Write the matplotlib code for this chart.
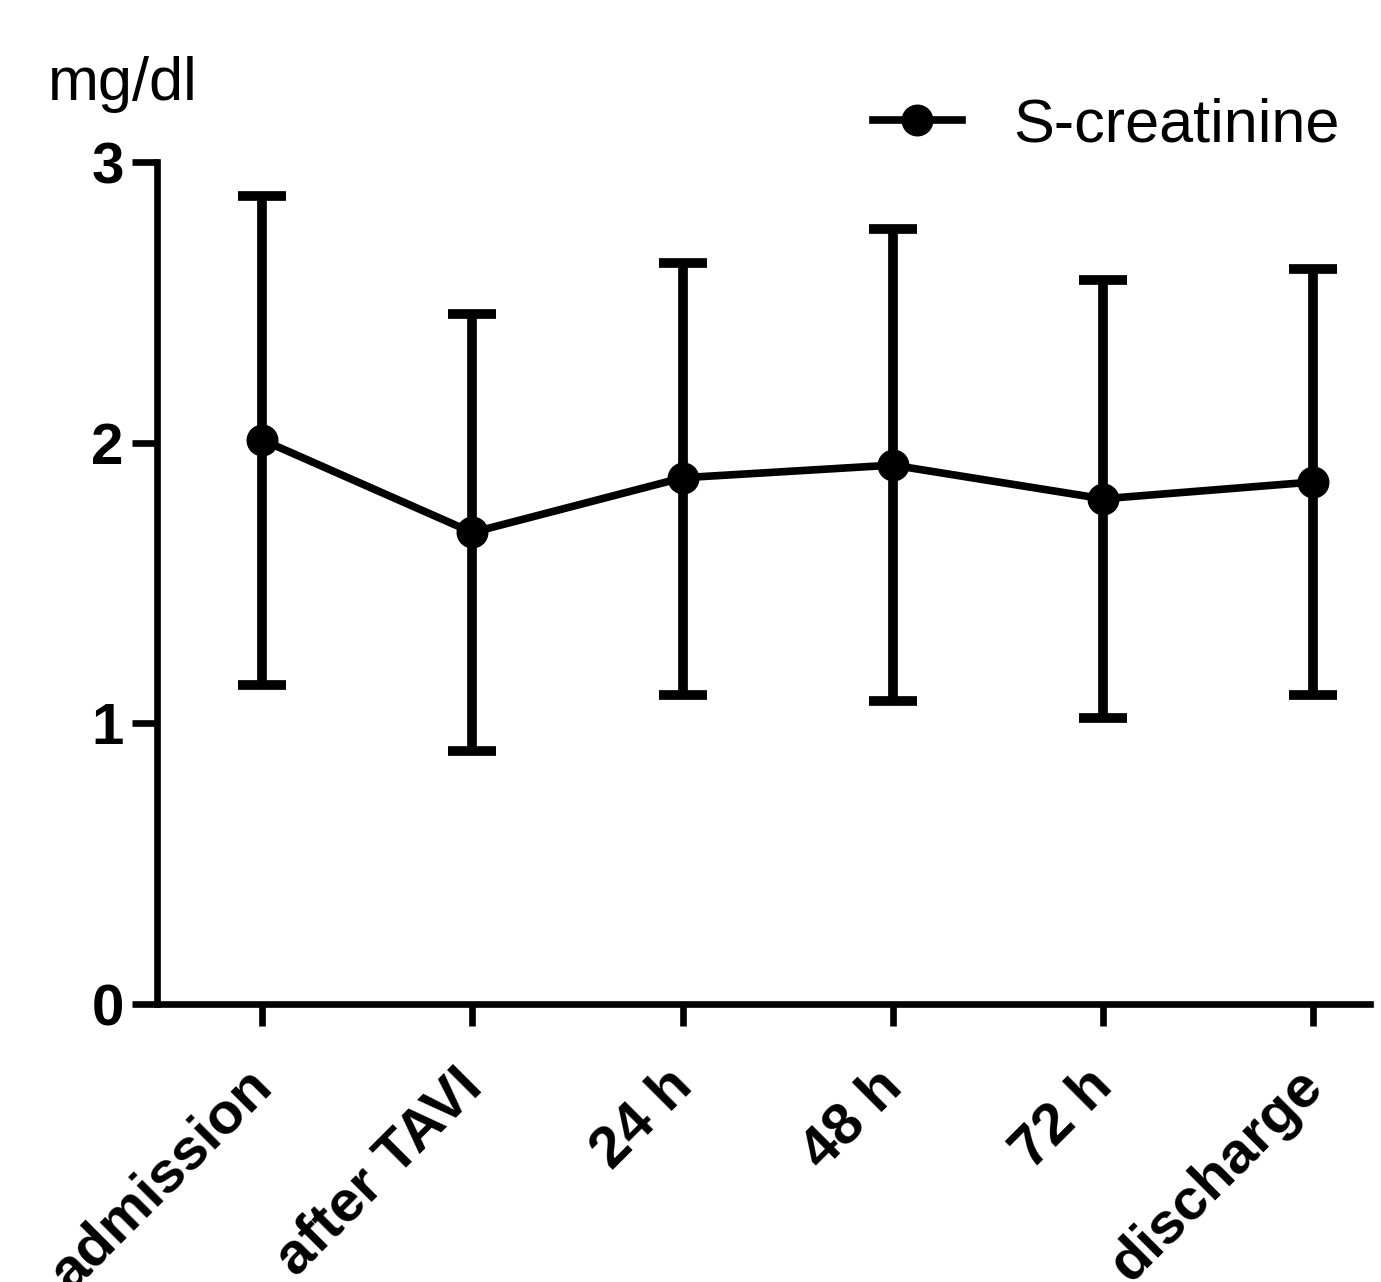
import matplotlib
matplotlib.use("Agg")
import matplotlib.pyplot as plt
import matplotlib.transforms as mtransforms
from matplotlib.lines import Line2D

categories = ["admission", "after TAVI", "24 h", "48 h", "72 h", "discharge"]
mean_vals = [2.01, 1.68, 1.875, 1.92, 1.80, 1.86]
upper_vals = [2.88, 2.46, 2.64, 2.76, 2.58, 2.62]
lower_vals = [1.135, 0.90, 1.10, 1.08, 1.02, 1.10]
yticks = [0, 1, 2, 3]
series_name = "S-creatinine"
unit_label = "mg/dl"

plt.rcParams['font.family'] = ['Liberation Sans', 'DejaVu Sans']

W, H = 1381, 1282
fig = plt.figure(figsize=(W / 100, H / 100), dpi=100)
ax = fig.add_axes([157 / W, 1 - 1004 / H, (1370 - 157) / W, (1004 - 162) / H])

x = list(range(len(categories)))
yerr = [[m - l for m, l in zip(mean_vals, lower_vals)],
        [u - m for m, u in zip(mean_vals, upper_vals)]]

ax.errorbar(x, mean_vals, yerr=yerr, color='black', lw=5.5, marker='o', ms=22,
            elinewidth=7, capsize=17, capthick=7, zorder=3, clip_on=False)

ax.set_xlim(-0.5, 5.27)
ax.set_ylim(0, 3)
ax.set_yticks(yticks)
ax.set_yticklabels([str(t) for t in yticks], fontsize=42, fontweight='bold')
ax.set_xticks(x)
ax.tick_params(axis='x', labelbottom=False)

label_tr = ax.get_xaxis_transform() + mtransforms.ScaledTranslation(
    -18 / 100, -55 / 100, fig.dpi_scale_trans)
for xi, cat in zip(x, categories):
    ax.text(xi, 0, cat, transform=label_tr, rotation=45, rotation_mode='anchor',
            ha='right', va='top', fontsize=42, fontweight='bold', clip_on=False)

for s in ['top', 'right']:
    ax.spines[s].set_visible(False)
for s in ['left', 'bottom']:
    ax.spines[s].set_linewidth(4.8)
ax.tick_params(axis='y', length=18, width=4.8, pad=6)
ax.tick_params(axis='x', length=16, width=4.8)

fig.text(48 / W, 1 - 100 / H, unit_label, fontsize=44, va='baseline', ha='left')

handle = Line2D([], [], color='black', lw=5.5, marker='o', ms=22)
ax.legend([handle], [series_name], loc='center right',
          bbox_to_anchor=(1340 / W, 1 - 126 / H),
          bbox_transform=fig.transFigure, frameon=False, fontsize=44,
          borderpad=0, borderaxespad=0, handlelength=1.45, handletextpad=0.85)

fig.savefig("out.png", dpi=100)
